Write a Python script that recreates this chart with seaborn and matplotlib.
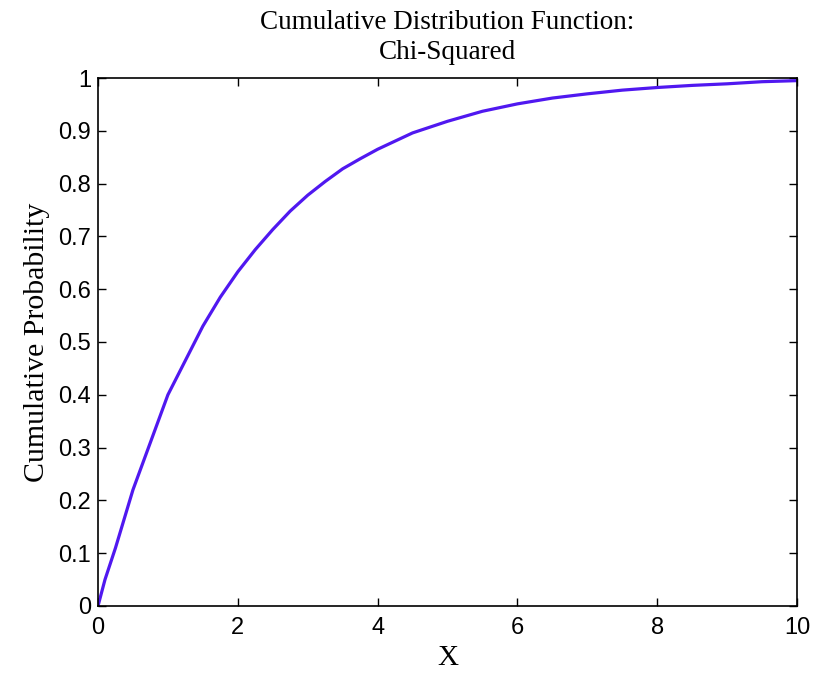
import matplotlib
matplotlib.use("Agg")
import matplotlib.pyplot as plt
import seaborn as sns
import pandas as pd

# Chi-squared CDF
x_values = [0.0, 0.1, 0.25, 0.5, 0.75, 1.0, 1.25, 1.5, 1.75, 2.0, 2.25, 2.5,
            2.75, 3.0, 3.25, 3.5, 3.75, 4.0, 4.5, 5.0, 5.5, 6.0, 6.5, 7.0,
            7.5, 8.0, 8.5, 9.0, 9.5, 10.0]
cdf_values = [0.0, 0.05, 0.11, 0.22, 0.31, 0.40, 0.465, 0.53, 0.585, 0.633,
              0.675, 0.713, 0.748, 0.778, 0.804, 0.828, 0.847, 0.865, 0.896,
              0.918, 0.937, 0.951, 0.962, 0.970, 0.977, 0.982, 0.986, 0.989,
              0.993, 0.995]

x_ticks = [0, 2, 4, 6, 8, 10]
y_ticks = [0, 0.1, 0.2, 0.3, 0.4, 0.5, 0.6, 0.7, 0.8, 0.9, 1]

df = pd.DataFrame({"x": x_values, "p": cdf_values})

sns.set_style("ticks", {"text.color": "black", "axes.labelcolor": "black",
                        "xtick.color": "black", "ytick.color": "black"})
plt.rcParams["font.family"] = ["Liberation Sans", "DejaVu Sans"]

fig = plt.figure(figsize=(8.25, 6.73), dpi=100)
ax = fig.add_axes([0.1188, 0.0996, 0.8473, 0.7845])

sns.lineplot(data=df, x="x", y="p", ax=ax, color="#5018F0", linewidth=2.3)

ax.set_xlim(0, 10)
ax.set_ylim(0, 1)
ax.set_xticks(x_ticks)
ax.set_xticklabels([str(t) for t in x_ticks])
ax.set_yticks(y_ticks)
ax.set_yticklabels(["0" if t == 0 else ("1" if t == 1 else f"{t:g}") for t in y_ticks])
ax.tick_params(direction="in", length=6, width=1, labelsize=17, pad=5,
               top=True, right=True, colors="black")
ax.tick_params(axis="x", pad=8)
for s in ax.spines.values():
    s.set_visible(True)
    s.set_linewidth(1.2)
    s.set_color("black")

serif = ["Liberation Serif", "DejaVu Serif"]
ax.set_xlabel("X", fontsize=21, family=serif, labelpad=4, color="black")
ax.set_ylabel("Cumulative Probability", fontsize=21.5, family=serif,
              labelpad=6, color="black")
ax.set_title("Cumulative Distribution Function:\nChi-Squared", fontsize=19.5,
             family=serif, pad=14, linespacing=1.25, color="black")

fig.savefig("out.png", dpi=100)
